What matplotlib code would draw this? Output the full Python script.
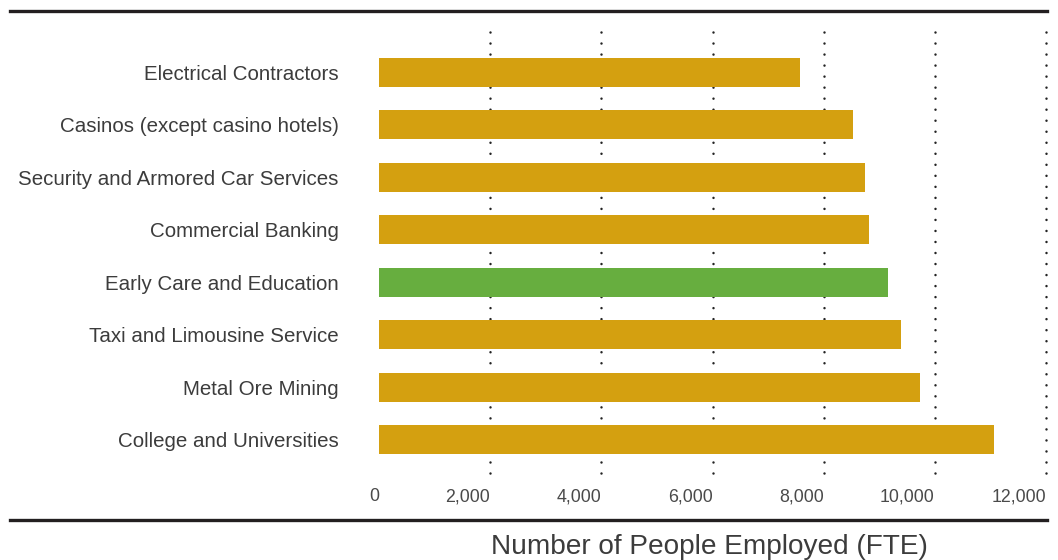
import matplotlib
matplotlib.use("Agg")
import matplotlib.pyplot as plt
from matplotlib.lines import Line2D

# ─────────────────────────────────────────────
#  DADOS
# ─────────────────────────────────────────────

categorias = [
    "Electrical Contractors",
    "Casinos (except casino hotels)",
    "Security and Armored Car Services",
    "Commercial Banking",
    "Early Care and Education",
    "Taxi and Limousine Service",
    "Metal Ore Mining",
    "College and Universities",
]
empregados = [7570, 8520, 8740, 8810, 9150, 9400, 9730, 11060]
destaque = "Early Care and Education"

ticks_x = [0, 2000, 4000, 6000, 8000, 10000, 12000]
rotulos_x = ["0", "2,000", "4,000", "6,000", "8,000", "10,000", "12,000"]
titulo_x = "Number of People Employed (FTE)"

COR_BARRA = "#D4A010"
COR_DESTAQUE = "#67AE3F"
COR_TEXTO = "#3c3c3c"
COR_LINHA = "#231f20"

plt.rcParams['font.family'] = ['Liberation Sans', 'DejaVu Sans']

fig = plt.figure(figsize=(10.58, 5.6), dpi=100)
ax = fig.add_axes([379 / 1058, 1 - 480 / 560, 667 / 1058, 448 / 560])

posicoes = list(range(len(categorias)))
cores = [COR_DESTAQUE if c == destaque else COR_BARRA for c in categorias]
ax.barh(posicoes, empregados, height=0.55, color=cores, zorder=3)

# grade pontilhada (sem a linha do zero)
ax.vlines(ticks_x[1:], -0.77, len(categorias) - 0.23, colors="#222222",
          linewidth=1.8, linestyles=(0, (0.01, 4.4)), capstyle="round",
          zorder=1, clip_on=False)

ax.set_xlim(0, 12000)
ax.set_ylim(len(categorias) - 0.23, -0.77)
ax.set_xticks(ticks_x)
ax.set_xticklabels(rotulos_x)
ax.set_yticks(posicoes)
ax.set_yticklabels(categorias)
ax.tick_params(axis='y', length=0, pad=29, labelsize=14.8, labelcolor=COR_TEXTO)
ax.tick_params(axis='x', length=0, pad=6, labelsize=12.8, labelcolor="#4a4a4a")
# rotulos do eixo x alinhados a direita da linha de grade
for lbl in ax.get_xticklabels():
    lbl.set_horizontalalignment("right")
for s in ax.spines.values():
    s.set_visible(False)

# linhas horizontais de cima e de baixo
for y in (10.5, 520):
    fig.add_artist(Line2D([10 / 1058, 1047 / 1058], [1 - y / 560, 1 - y / 560],
                          color=COR_LINHA, linewidth=2.4,
                          transform=fig.transFigure))

fig.text(709 / 1058, 1 - 547 / 560, titulo_x, ha="center", va="center",
         fontsize=20.2, color=COR_TEXTO)

fig.savefig("out.png", dpi=100)
